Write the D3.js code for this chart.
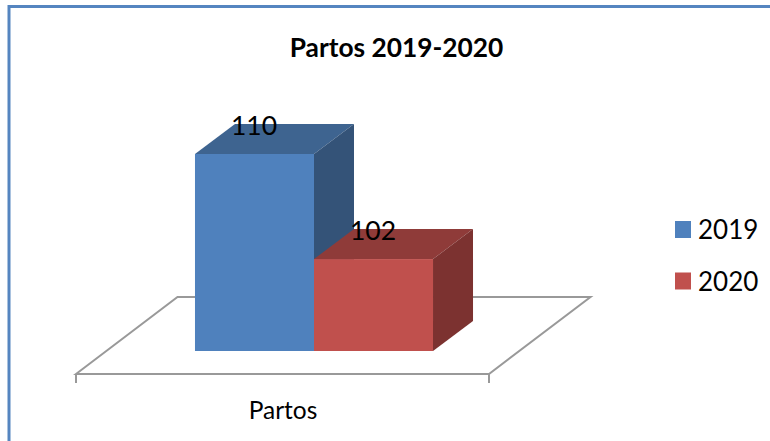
<!DOCTYPE html>
<html>
<head>
<meta charset="utf-8">
<script src="https://cdn.jsdelivr.net/npm/d3@7"></script>
<style>
html,body{margin:0;padding:0;background:#fff;}
svg{display:block;}
text{font-family:Lato,"Open Sans",sans-serif;fill:#000;}
</style>
</head>
<body>
<div id="chart"></div>
<script>
const categories = ["Partos"];
const seriesNames = ["2019", "2020"];
const values2019 = [110];
const values2020 = [102];
const seriesColors = ["#4f81bd", "#c0504d"];
const topColors = ["#3e6490", "#8f3b39"];
const sideColors = ["#345378", "#7c3230"];
const titleText = "Partos 2019-2020";

const W = 770, H = 441;
const svg = d3.select("#chart").append("svg").attr("width", W).attr("height", H);

// Panel border (top and left only)
svg.append("path").attr("d", "M9,441V6.5H770").attr("fill", "none")
  .attr("stroke", "#5585c0").attr("stroke-width", 3);

const x0 = d3.scaleBand().domain(categories).range([76, 489]);
const x1 = d3.scaleBand().domain(seriesNames).range([0, x0.bandwidth()])
  .paddingInner(0).paddingOuter(0.735);
const y = d3.scaleLinear().domain([95, 110]).range([351, 154]);

const floorDepth = {dx: 101.5, dy: -77};
const barShift = {dx: 31.5, dy: -23};
const barDepth = {dx: 40, dy: -30};
const floorY = 374;

// Floor
const fl = x0.range()[0], fr = x0.range()[1];
const floorPts = [[fl, floorY], [fl + floorDepth.dx, floorY + floorDepth.dy],
  [fr + floorDepth.dx, floorY + floorDepth.dy], [fr, floorY]];
svg.append("path").attr("d", d3.line()(floorPts) + "Z")
  .attr("fill", "#fff").attr("stroke", "#999").attr("stroke-width", 2);
svg.selectAll(".tick-mark").data([fl, fr]).join("line").attr("class", "tick-mark")
  .attr("x1", d => d).attr("x2", d => d)
  .attr("y1", floorY).attr("y2", floorY + 9)
  .attr("stroke", "#999").attr("stroke-width", 2);

// Bars
const rows = [
  {name: seriesNames[0], value: values2019[0], i: 0},
  {name: seriesNames[1], value: values2020[0], i: 1}
].map(d => {
  const left = x0(categories[0]) + x1(d.name) + barShift.dx;
  return {...d, left, right: left + x1.bandwidth(), top: y(d.value), bottom: y.range()[0]};
});

const g = svg.selectAll(".bar").data(rows).join("g").attr("class", "bar");
g.append("path").attr("fill", d => topColors[d.i])
  .attr("d", d => d3.line()([[d.left, d.top], [d.left + barDepth.dx, d.top + barDepth.dy],
    [d.right + barDepth.dx, d.top + barDepth.dy], [d.right, d.top]]) + "Z");
g.append("path").attr("fill", d => sideColors[d.i])
  .attr("d", d => d3.line()([[d.right, d.top], [d.right + barDepth.dx, d.top + barDepth.dy],
    [d.right + barDepth.dx, d.bottom + barDepth.dy], [d.right, d.bottom]]) + "Z");
g.append("rect").attr("fill", d => seriesColors[d.i])
  .attr("x", d => d.left).attr("y", d => d.top)
  .attr("width", d => d.right - d.left).attr("height", d => d.bottom - d.top);

// Value labels
svg.selectAll(".value-label").data(rows).join("text").attr("class", "value-label")
  .attr("x", d => d.left + 59).attr("y", d => d.top - 19)
  .attr("text-anchor", "middle").attr("font-size", 26.5)
  .text(d => d.value);

// Title and category
svg.append("text").attr("x", 396.5).attr("y", 57).attr("text-anchor", "middle")
  .attr("font-size", 26.3).attr("font-weight", 700).text(titleText);
svg.append("text").attr("x", 283).attr("y", 418.5).attr("text-anchor", "middle")
  .attr("font-size", 24.5).text(categories[0]);

// Legend
const legendY = d3.scalePoint().domain(seriesNames).range([229.5, 281]);
const lg = svg.selectAll(".legend").data(seriesNames).join("g").attr("class", "legend");
lg.append("rect").attr("x", 675).attr("y", d => legendY(d) - 8.5)
  .attr("width", 16).attr("height", 17).attr("fill", (d, i) => seriesColors[i]);
lg.append("text").attr("x", 698).attr("y", d => legendY(d) + 9.5)
  .attr("font-size", 26).text(d => d);
</script>
</body>
</html>
